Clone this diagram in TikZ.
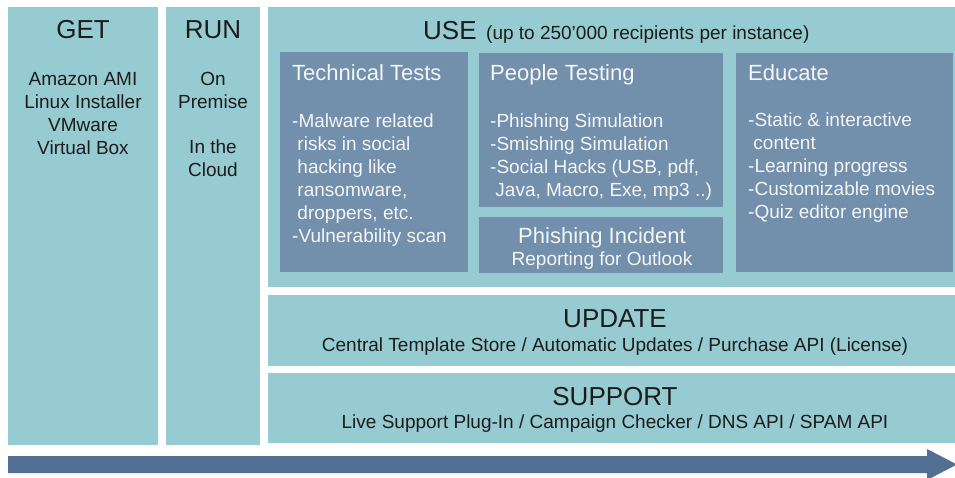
\documentclass[tikz,border=0pt]{standalone}
\usepackage{fontspec}
\setmainfont{Liberation Sans}
\definecolor{paneteal}{HTML}{97CBD2}
\definecolor{paneslate}{HTML}{728FAC}
\definecolor{flowblue}{HTML}{527091}
\definecolor{inktext}{HTML}{1C1C1C}
\definecolor{lighttext}{HTML}{F4F6F8}
\newcommand{\fsz}[1]{\fontsize{#1}{1.2\dimexpr#1pt\relax}\selectfont}
\tikzset{
  x=1pt, y=-1pt,
  panel/.style={fill=paneteal, draw=none, inner sep=0, outer sep=0},
  subpanel/.style={fill=paneslate, draw=none, inner sep=0, outer sep=0},
  bigtitle/.style={inner sep=0, anchor=base, text=inktext, font=\fsz{26}},
  plainline/.style={inner sep=0, anchor=base, text=inktext, font=\fsz{19}},
  subtitle/.style={inner sep=0, anchor=base west, text=lighttext, font=\fsz{22}},
  subline/.style={inner sep=0, anchor=base west, text=lighttext, font=\fsz{19}},
}
\begin{document}
\begin{tikzpicture}
\useasboundingbox (0,0) rectangle (955,477);
\clip (0,0) rectangle (955,477);
\fill[white] (0,0) rectangle (955,477);

% outer panels
\node[panel, minimum width=150pt, minimum height=438pt] (get) at (83,226) {};
\node[panel, minimum width=94pt, minimum height=438pt] (run) at (213,226) {};
\node[panel, minimum width=694pt, minimum height=280pt] (use) at (615,147) {};
\node[panel, minimum width=694pt, minimum height=71pt] (update) at (615,330.5) {};
\node[panel, minimum width=694pt, minimum height=70pt] (support) at (615,408) {};

% inner panels of USE
\node[subpanel, minimum width=188pt, minimum height=220pt] (tech) at (374,162) {};
\node[subpanel, minimum width=244pt, minimum height=154pt] (people) at (601,130) {};
\node[subpanel, minimum width=244pt, minimum height=56pt] (incident) at (601,245) {};
\node[subpanel, minimum width=217pt, minimum height=219pt] (educate) at (844.5,162.5) {};

% GET column
\node[bigtitle] (gett) at (83,38) {GET};
\foreach \t [count=\i] in {{Amazon AMI},{Linux Installer},{VMware},{Virtual Box}}
  \node[plainline] (getl\i) at (83,{62+23*\i}) {\t};

% RUN column
\node[bigtitle] (runt) at (213,38) {RUN};
\node[plainline] (runa) at (213,85) {On};
\node[plainline] (runb) at (213,108) {Premise};
\node[plainline] (runc) at (213,153) {In the};
\node[plainline] (rund) at (213,176) {Cloud};

% USE heading
\node[bigtitle, anchor=base west] (uset) at (423,39) {USE};
\node[plainline, anchor=base west] (usen) at (486,39) {(up to 250’000 recipients per instance)};

% Technical Tests
\node[subtitle] (techt) at (292,80) {Technical Tests};
\foreach \t [count=\i] in {{-Malware related},{\ risks in social},{\ hacking like},{\ ransomware,},{\ droppers, etc.},{-Vulnerability scan}}
  \node[subline] (techl\i) at (292,{104+23*\i}) {\t};

% People Testing
\node[subtitle] (peoplet) at (490,80) {People Testing};
\foreach \t [count=\i] in {{-Phishing Simulation},{-Smishing Simulation},{-Social Hacks (USB, pdf,},{\ Java, Macro, Exe, mp3 ..)}}
  \node[subline] (peoplel\i) at (490,{104.5+23*\i}) {\t};

% Phishing Incident
\node[subtitle, anchor=base] (incidentt) at (602,243) {Phishing Incident};
\node[subline, anchor=base] (incidentl) at (602,265) {Reporting for Outlook};

% Educate
\node[subtitle] (educatet) at (748,80) {Educate};
\foreach \t [count=\i] in {{-Static \& interactive},{\ content},{-Learning progress},{-Customizable movies},{-Quiz editor engine}}
  \node[subline] (educatel\i) at (748,{103+23*\i}) {\t};

% UPDATE and SUPPORT bands
\node[bigtitle] (updatet) at (615,327) {UPDATE};
\node[plainline] (updatel) at (615,351) {Central Template Store / Automatic Updates / Purchase API (License)};
\node[bigtitle] (supportt) at (615,405) {SUPPORT};
\node[plainline] (supportl) at (615,428) {Live Support Plug-In / Campaign Checker / DNS API / SPAM API};

% timeline arrow
\fill[flowblue] (8,456) -- (927,456) -- (927,449) -- (957,464.5) -- (927,480)
  -- (927,473) -- (8,473) -- cycle;
\end{tikzpicture}
\end{document}
